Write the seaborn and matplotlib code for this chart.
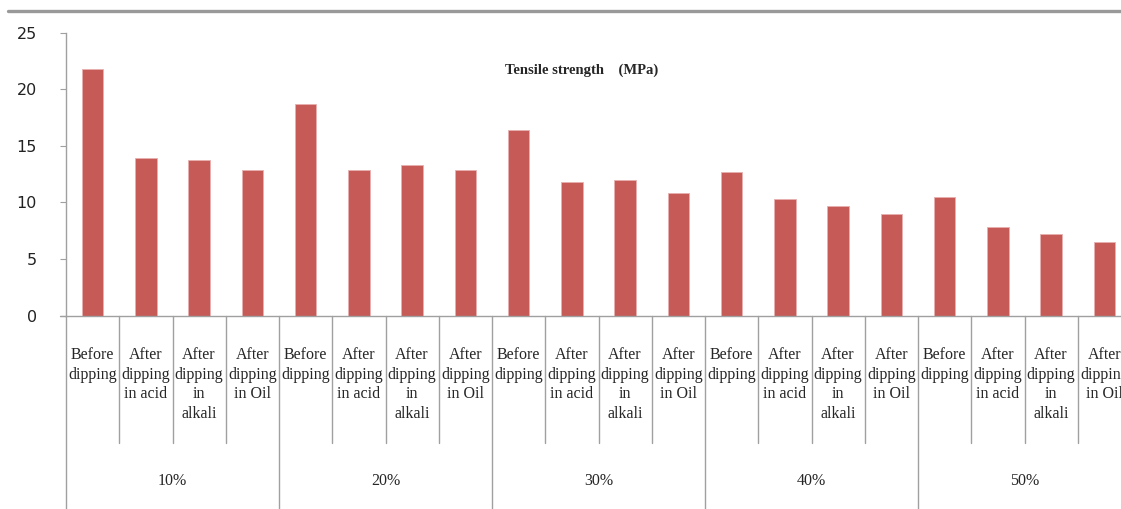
import matplotlib
matplotlib.use('Agg')
import matplotlib.pyplot as plt
import matplotlib.transforms as mtransforms
from matplotlib.lines import Line2D
import pandas as pd
import seaborn as sns

# Data
groups = ['10%', '20%', '30%', '40%', '50%']
treatments = ['Before\ndipping', 'After\ndipping\nin acid',
              'After\ndipping\nin\nalkali', 'After\ndipping\nin Oil']
strength = [21.8, 13.9, 13.75, 12.85,
            18.7, 12.85, 13.3, 12.85,
            16.4, 11.8, 11.95, 10.8,
            12.7, 10.3, 9.7, 9.0,
            10.45, 7.8, 7.2, 6.5]
y_ticks = [0, 5, 10, 15, 20, 25]
title = 'Tensile strength    (MPa)'

BAR_COLOR = '#C55A56'
LINE_COLOR = '#A0A0A0'
W, H = 1121, 509

df = pd.DataFrame({
    'group': [g for g in groups for _ in treatments],
    'treatment': treatments * len(groups),
    'strength': strength,
})
df['key'] = df['group'] + '|' + df['treatment']

sns.set_style('white')
fig = plt.figure(figsize=(W / 100, H / 100), dpi=100)
# axes placed in pixel terms; right side runs past the figure edge like the reference
ax = fig.add_axes([66 / W, (H - 315.5) / H, 1065 / W, 282.8 / H])

sns.barplot(data=df, x='key', y='strength', color=BAR_COLOR, width=0.4,
            edgecolor='#E8B0AE', linewidth=0.6, saturation=1, ax=ax)

ax.set_xlim(-0.5, len(df) - 0.5)
ax.set_ylim(0, 25)
ax.set_yticks(y_ticks)
ax.set_yticklabels([str(v) for v in y_ticks], fontsize=11.5, color='#222222',
                   family='DejaVu Sans')
ax.tick_params(axis='y', direction='out', length=4.3, width=0.8,
               color=LINE_COLOR, pad=16.5, left=True)
ax.set_xticks([])
ax.set_xlabel('')
ax.set_ylabel('')

for side in ['top', 'right']:
    ax.spines[side].set_visible(False)
for side in ['left', 'bottom']:
    ax.spines[side].set_color(LINE_COLOR)
    ax.spines[side].set_linewidth(1.0)

# bottom axis pokes left past the y axis like the 0 tick
ax.plot([-0.5 - 6 / 53.25, -0.5], [0, 0], color=LINE_COLOR, lw=1.0, clip_on=False)

trans = mtransforms.blended_transform_factory(ax.transData, ax.transAxes)
px = 282.8  # axes height in pixels

# hierarchical category labels (last one is cut by the figure edge, as in the source)
for i, t in enumerate(df['treatment']):
    ax.text(i, -(347 - 315.5) / px, t, transform=trans, ha='center', va='top',
            fontsize=11.5, family='Liberation Serif', linespacing=1.3,
            clip_on=False)

n = len(treatments)
for i in range(len(df) + 1):
    x = i - 0.5
    y_end = -(H - 315.5) / px if i % n == 0 else -(443 - 315.5) / px
    ax.add_line(Line2D([x, x], [0, y_end], transform=trans, color=LINE_COLOR,
                       lw=1.0, clip_on=False))

for j, g in enumerate(groups):
    ax.text(j * n + (n - 1) / 2, -(481 - 315.5) / px, g, transform=trans,
            ha='center', va='center', fontsize=11.5, family='Liberation Serif',
            clip_on=False)

fig.text(582 / W, 1 - 70 / H, title, ha='center', va='center', fontsize=10.5,
         fontweight='bold', family='Liberation Serif')

# grey rule along the top of the slide
fig.add_artist(Line2D([8 / W, 1], [1 - 10.5 / H] * 2, color='#999999', lw=2.4))

fig.savefig('out.png', dpi=100)
